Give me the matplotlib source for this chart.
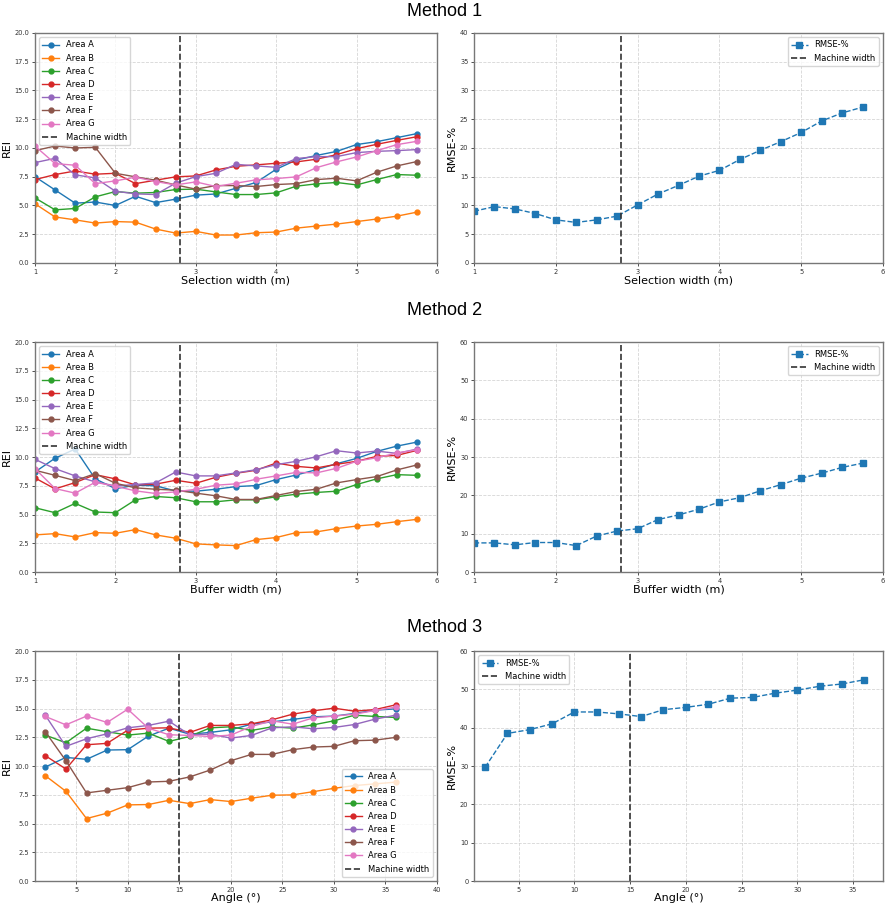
import numpy as np
import matplotlib
matplotlib.use("Agg")
import matplotlib.pyplot as plt

# x values
width_x = [1, 1.25, 1.5, 1.75, 2, 2.25, 2.5, 2.75, 3, 3.25, 3.5, 3.75, 4, 4.25, 4.5, 4.75, 5, 5.25, 5.5, 5.75]
angle_x = [2, 4, 6, 8, 10, 12, 14, 16, 18, 20, 22, 24, 26, 28, 30, 32, 34, 36]
areas = ["Area A", "Area B", "Area C", "Area D", "Area E", "Area F", "Area G"]

# Method 1 (selection width)
m1_a = [7.5, 6.35, 5.2, 5.3, 5.0, 5.8, 5.25, 5.55, 5.9, 6.0, 6.5, 7.0, 8.15, 8.95, 9.35, 9.7, 10.3, 10.55, 10.9, 11.25]
m1_b = [5.15, 4.0, 3.75, 3.47, 3.6, 3.55, 2.95, 2.6, 2.75, 2.43, 2.43, 2.63, 2.69, 3.03, 3.21, 3.38, 3.6, 3.82, 4.07, 4.42]
m1_c = [5.66, 4.62, 4.74, 5.75, 6.21, 6.07, 6.13, 6.39, 6.42, 6.18, 5.95, 5.95, 6.1, 6.68, 6.88, 7.0, 6.79, 7.25, 7.69, 7.63]
m1_d = [7.25, 7.69, 8.0, 7.72, 7.8, 6.9, 7.2, 7.49, 7.57, 8.09, 8.41, 8.53, 8.67, 8.79, 9.02, 9.42, 9.94, 10.32, 10.66, 10.98]
m1_e = [8.73, 9.1, 7.66, 7.4, 6.24, 6.01, 5.95, 6.94, 7.51, 7.8, 8.58, 8.44, 8.32, 9.08, 9.25, 9.25, 9.6, 9.71, 9.77, 9.86]
m1_f = [9.77, 10.17, 10.0, 10.06, 7.8, 7.49, 7.2, 6.79, 6.42, 6.73, 6.73, 6.65, 6.82, 6.9, 7.25, 7.37, 7.14, 7.89, 8.44, 8.82]
m1_g = [10.17, 8.64, 8.5, 6.9, 7.14, 7.46, 7.08, 6.79, 7.05, 6.65, 6.94, 7.23, 7.34, 7.49, 8.29, 8.79, 9.22, 9.77, 10.29, 10.58]
m1_rmse = [9.0, 9.8, 9.4, 8.6, 7.5, 7.05, 7.5, 8.15, 10.1, 12.0, 13.5, 15.1, 16.1, 18.0, 19.6, 21.1, 22.7, 24.7, 26.1, 27.1]

# Method 2 (buffer width)
m2_a = [8.7, 9.9, 10.7, 8.1, 7.25, 7.55, 7.5, 7.05, 7.03, 7.2, 7.43, 7.52, 8.04, 8.44, 8.9, 9.42, 9.88, 10.49, 10.95, 11.3]
m2_b = [3.23, 3.34, 3.05, 3.43, 3.37, 3.69, 3.23, 2.94, 2.45, 2.36, 2.3, 2.82, 3.0, 3.43, 3.49, 3.78, 4.0, 4.15, 4.38, 4.58]
m2_c = [5.59, 5.16, 5.97, 5.22, 5.16, 6.28, 6.57, 6.46, 6.11, 6.11, 6.28, 6.28, 6.54, 6.77, 6.92, 7.03, 7.61, 8.1, 8.47, 8.41]
m2_d = [8.18, 7.23, 7.78, 8.47, 8.1, 7.58, 7.64, 7.98, 7.72, 8.24, 8.59, 8.85, 9.48, 9.19, 9.05, 9.37, 9.63, 10.06, 10.14, 10.58]
m2_e = [9.8, 8.99, 8.36, 7.84, 7.49, 7.61, 7.75, 8.7, 8.36, 8.36, 8.62, 8.9, 9.34, 9.63, 10.03, 10.55, 10.35, 10.52, 10.32, 10.69]
m2_f = [8.85, 8.41, 7.95, 8.56, 7.72, 7.32, 7.2, 7.12, 6.86, 6.63, 6.31, 6.31, 6.66, 7.0, 7.2, 7.75, 8.04, 8.3, 8.88, 9.31]
m2_g = [8.99, 7.26, 6.86, 7.81, 7.46, 7.06, 6.83, 6.97, 7.2, 7.55, 7.67, 8.07, 8.36, 8.67, 8.62, 9.02, 9.63, 9.94, 10.35, 10.63]
m2_rmse = [7.6, 7.6, 7.1, 7.7, 7.7, 6.9, 9.4, 10.7, 11.3, 13.7, 14.9, 16.4, 18.3, 19.4, 21.2, 22.8, 24.5, 25.8, 27.3, 28.4]

# Method 3 (angle)
m3_a = [9.91, 10.75, 10.58, 11.39, 11.42, 12.6, 13.29, 12.77, 12.92, 13.15, 13.64, 13.84, 14.05, 14.28, 14.34, 14.57, 14.86, 14.97]
m3_b = [9.16, 7.8, 5.43, 5.9, 6.62, 6.65, 7.02, 6.73, 7.08, 6.91, 7.2, 7.46, 7.49, 7.77, 8.06, 8.3, 8.45, 8.6]
m3_c = [12.69, 12.02, 13.29, 12.98, 12.69, 12.86, 12.14, 12.57, 13.32, 13.41, 13.09, 13.41, 13.29, 13.58, 13.93, 14.42, 14.31, 14.22]
m3_d = [10.9, 9.74, 11.85, 11.97, 13.12, 13.29, 13.32, 12.92, 13.53, 13.53, 13.67, 14.02, 14.51, 14.8, 15.03, 14.77, 14.91, 15.32]
m3_e = [14.42, 11.71, 12.37, 12.8, 13.32, 13.53, 13.9, 12.72, 12.77, 12.43, 12.66, 13.32, 13.41, 13.24, 13.35, 13.61, 14.08, 14.42]
m3_f = [12.98, 10.46, 7.66, 7.89, 8.12, 8.61, 8.67, 9.05, 9.65, 10.46, 11.01, 11.01, 11.42, 11.65, 11.71, 12.2, 12.25, 12.49]
m3_g = [14.31, 13.58, 14.34, 13.79, 14.94, 13.29, 12.72, 12.66, 12.57, 12.69, 13.44, 13.93, 13.64, 14.19, 14.34, 14.51, 14.83, 15.12]
m3_rmse = [29.7, 38.5, 39.5, 41.0, 44.1, 44.1, 43.6, 42.9, 44.7, 45.3, 46.1, 47.7, 47.9, 49.0, 49.8, 50.8, 51.4, 52.5]

machine_width = [2.8, 2.8, 15]
xlabels = ["Selection width (m)", "Buffer width (m)", "Angle (°)"]
titles = ["Method 1", "Method 2", "Method 3"]

rei = [[m1_a, m1_b, m1_c, m1_d, m1_e, m1_f, m1_g],
       [m2_a, m2_b, m2_c, m2_d, m2_e, m2_f, m2_g],
       [m3_a, m3_b, m3_c, m3_d, m3_e, m3_f, m3_g]]
rmse = [m1_rmse, m2_rmse, m3_rmse]
xs = [width_x, width_x, angle_x]

fig = plt.figure(figsize=(8.9, 9.09), dpi=100)

bottoms = [0.7107, 0.3707, 0.0308]
title_y = [0.987, 0.658, 0.31]
h = 0.253


def style(ax):
    ax.grid(True, linestyle="--", color="#cccccc", linewidth=0.6, alpha=0.8)
    ax.tick_params(labelsize=4.8, length=2.5, width=0.6, pad=1.5, colors="#333333")
    for s in ax.spines.values():
        s.set_color("#777777")
        s.set_linewidth(1.0)


for i in range(3):
    fig.text(0.5, title_y[i], titles[i], ha="center", va="center",
             fontsize=13, family="Liberation Sans")

    ax1 = fig.add_axes([0.0393, bottoms[i], 0.4517, h])
    for name, ys in zip(areas, rei[i]):
        ax1.plot(xs[i], ys, marker="o", markersize=3.5, linewidth=1.0, label=name)
    ax1.axvline(machine_width[i], color="#333333", linestyle="--", linewidth=1.2, label="Machine width")
    ax1.set_ylim(0, 20)
    ax1.set_ylabel("REI", fontsize=8, labelpad=2)
    ax1.set_xlabel(xlabels[i], fontsize=8, labelpad=0.5)
    if i < 2:
        ax1.set_xlim(1, 6)
        ax1.legend(loc="upper left", fontsize=6)
    else:
        ax1.set_xlim(1, 40)
        ax1.legend(loc="lower right", fontsize=6)
    style(ax1)

    ax2 = fig.add_axes([0.5326, bottoms[i], 0.4596, h])
    ax2.plot(xs[i], rmse[i], linestyle="--", marker="s", markersize=4, linewidth=1.0,
             color="#1f77b4", label="RMSE-%")
    ax2.axvline(machine_width[i], color="#333333", linestyle="--", linewidth=1.2, label="Machine width")
    ax2.set_ylabel("RMSE-%", fontsize=8, labelpad=2)
    ax2.set_xlabel(xlabels[i], fontsize=8, labelpad=0.5)
    if i == 0:
        ax2.set_ylim(0, 40)
        ax2.set_xlim(1, 6)
        ax2.legend(loc="upper right", fontsize=6)
    elif i == 1:
        ax2.set_ylim(0, 60)
        ax2.set_xlim(1, 6)
        ax2.legend(loc="upper right", fontsize=6)
    else:
        ax2.set_ylim(0, 60)
        ax2.set_xlim(1, 37.7)
        ax2.legend(loc="upper left", fontsize=6)
    style(ax2)

fig.savefig("out.png", dpi=100)
